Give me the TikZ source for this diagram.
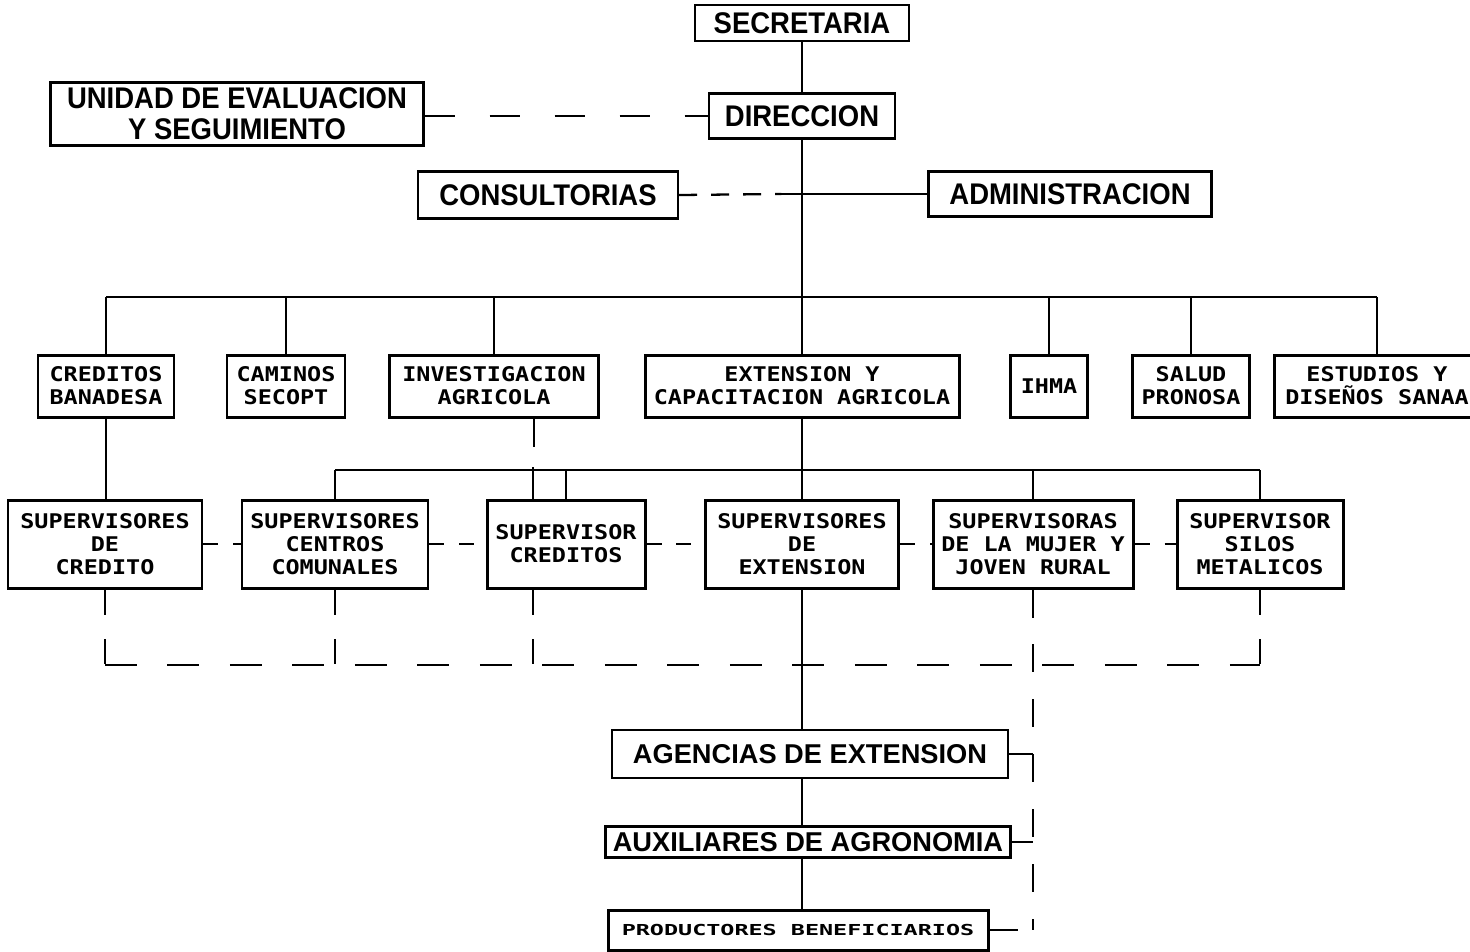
\documentclass[tikz,border=0pt]{standalone}
\usepackage{fontspec}
\setmainfont{Liberation Sans}
\newfontfamily\headfont{Liberation Sans}[FakeStretch=0.92]
\newfontfamily\dotfont{DejaVu Sans Mono}[FakeStretch=1.16]
\newfontfamily\lowfont{DejaVu Sans Mono}[FakeStretch=1.55]
\tikzset{
  boxsz/.style 2 args={minimum width=#1*0.02cm, minimum height=#2*0.02cm},
  head/.style={draw, line width=1.4pt, inner sep=0pt, align=center,
    font=\headfont\bfseries\fontsize{17}{17.6}\selectfont},
  unit/.style={draw, line width=1.7pt, inner sep=0pt, align=center,
    font=\dotfont\bfseries\fontsize{11.5}{13}\selectfont},
  base/.style={draw, line width=1.4pt, inner sep=0pt, align=center,
    font=\bfseries\fontsize{15.5}{18}\selectfont},
  link/.style={line width=1.3pt},
  staff/.style={link, dash pattern=on 0.6cm off 0.7cm},
  advice/.style={link, dash pattern=on 0.36cm off 0.28cm},
  peer/.style={link, dash pattern=on 0.3cm off 0.3cm},
  tie/.style={link, dash pattern=on 0.64cm off 0.61cm},
  drop/.style={link, dash pattern=on 0.5cm off 0.5cm},
  rural/.style={link, dash pattern=on 0.56cm off 0.54cm},
}

\begin{document}
\begin{tikzpicture}[x=0.02cm, y=-0.02cm]
    \useasboundingbox (0,0) rectangle (1470,951);

    % Top of the chart
    \node[head, boxsz={214}{36}] (sec) at (802,23) {SECRETARIA};
    \node[head, boxsz={186}{45}] (dir) at (802,116) {DIRECCION};
    \node[head, boxsz={373}{63}] (unidad) at (237,114) {UNIDAD DE EVALUACION\\Y SEGUIMIENTO};
    \node[head, boxsz={260}{47}] (consult) at (548,195) {CONSULTORIAS};
    \node[head, boxsz={283}{45}] (admin) at (1070,194) {ADMINISTRACION};

    % Programmes
    \node[unit, boxsz={136}{62}] (credB) at (106,386) {CREDITOS\\BANADESA};
    \node[unit, boxsz={118}{62}] (caminos) at (286,386) {CAMINOS\\SECOPT};
    \node[unit, boxsz={209}{62}] (invest) at (494,386) {INVESTIGACION\\AGRICOLA};
    \node[unit, boxsz={314}{62}] (ext) at (802,386) {EXTENSION Y\\CAPACITACION AGRICOLA};
    \node[unit, boxsz={77}{62}] (ihma) at (1049,386) {IHMA};
    \node[unit, boxsz={117}{62}] (salud) at (1191,386) {SALUD\\PRONOSA};
    \node[unit, boxsz={206}{62}] (estudios) at (1377,386) {ESTUDIOS Y\\DISEÑOS SANAA};

    % Supervisors
    \node[unit, boxsz={194}{88}] (supCred) at (105,544) {SUPERVISORES\\DE\\CREDITO};
    \node[unit, boxsz={186}{88}] (supCen) at (335,544) {SUPERVISORES\\CENTROS\\COMUNALES};
    \node[unit, boxsz={158}{88}] (supCrd) at (566,544) {SUPERVISOR\\CREDITOS};
    \node[unit, boxsz={193}{88}] (supExt) at (802,544) {SUPERVISORES\\DE\\EXTENSION};
    \node[unit, boxsz={200}{88}] (supMuj) at (1033,544) {SUPERVISORAS\\DE LA MUJER Y\\JOVEN RURAL};
    \node[unit, boxsz={166}{88}] (supSil) at (1260,544) {SUPERVISOR\\SILOS\\METALICOS};

    % Field level
    \node[base, boxsz={396}{48}] (agen) at (810,754) {AGENCIAS DE EXTENSION};
    \node[base, boxsz={405}{31}] (aux) at (808,842) {AUXILIARES DE AGRONOMIA};
    \node[unit, boxsz={380}{40}, font=\lowfont\bfseries\fontsize{8.6}{10}\selectfont]
        (prod) at (798,930) {PRODUCTORES BENEFICIARIOS};

    \coordinate (bus1) at (0,297);
    \coordinate (bus2) at (0,470);
    \coordinate (bot) at (0,665);
    \coordinate (crdx) at ([xshift=-0.66cm]supCrd.south);

    % Line of command
    \draw[link] (sec.south) -- (dir.north);
    \draw[link] (dir.south) -- (ext.north);
    \draw[link] (admin.west) -- ++(-146,0) coordinate (adm);
    \draw[advice] (consult.east) -- (adm);
    \draw[staff] (unidad.east |- dir.west) -- (dir.west);

    \draw[link] (bus1 -| credB.north) -- (bus1 -| estudios.north);
    \foreach \n in {credB,caminos,invest,ihma,salud,estudios}
        \draw[link] (\n.north) -- (\n.north |- bus1);

    \draw[link] (credB.south) -- (credB.south |- supCred.north);
    \draw[link] ([xshift=0.8cm]invest.south) -- ++(0,28);
    \draw[link] (ext.south) -- (supExt.north);
    \draw[link] (bus2 -| supCen.north) -- (bus2 -| supSil.north);
    \foreach \n in {supCen,supCrd,supMuj,supSil}
        \draw[link] (\n.north) -- (\n.north |- bus2);
    \draw[link] ([xshift=-0.66cm]supCrd.north) -- ++(0,-32);

    \draw[link] (supExt.south) -- (supExt.south |- agen.north);
    \draw[link] (agen.south -| supExt) -- (aux.north -| supExt);
    \draw[link] (aux.south -| supExt) -- (prod.north -| supExt);

    % Coordination
    \foreach \a/\b in {supCred/supCen,supCen/supCrd,supCrd/supExt,supExt/supMuj,supMuj/supSil}
        \draw[peer] (\a.east) -- (\b.west);

    \draw[tie] (bot -| supCred.south) -- (bot -| supSil.south);
    \foreach \n in {supCred,supCen,supSil}
        \draw[drop] (\n.south) -- (bot -| \n.south);
    \draw[drop] (crdx) -- (crdx |- bot);

    \draw[rural] (supMuj.south) -- (supMuj.south |- prod.east) coordinate (mujEnd);
    \foreach \n in {agen,aux,prod}
        \draw[rural] (\n.east) -- (\n.east -| mujEnd);
\end{tikzpicture}
\end{document}
